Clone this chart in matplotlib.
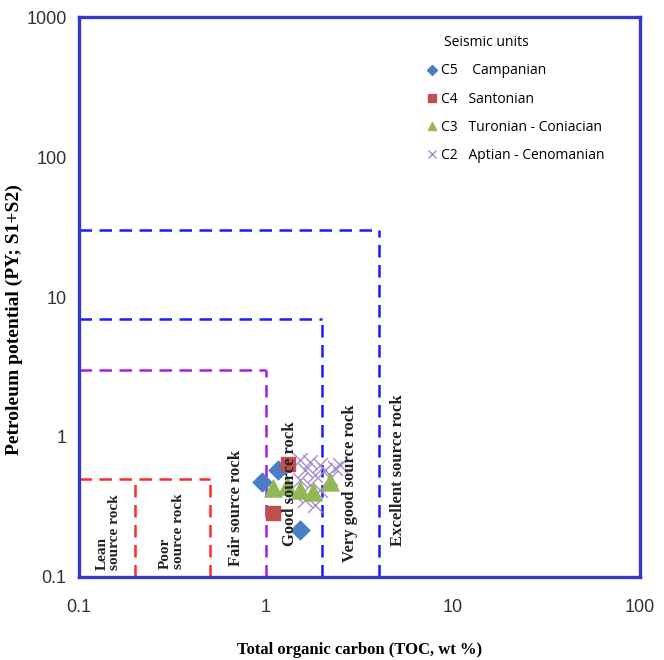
import numpy as np
import matplotlib
matplotlib.use("Agg")
import matplotlib.pyplot as plt
from matplotlib.lines import Line2D

# TOC (wt %) and PY (S1+S2)
c5_toc = [0.95, 1.16, 1.52]
c5_py = [0.48, 0.58, 0.217]

c4_toc = [1.31, 1.09]
c4_py = [0.64, 0.286]

c3_toc = [1.09, 1.29, 1.52, 1.78, 2.20]
c3_py = [0.43, 0.447, 0.418, 0.405, 0.478]

c2_toc = [1.52, 1.72, 1.94, 1.62, 1.83, 2.07, 2.34, 1.52, 1.72, 1.94, 2.20, 1.43, 1.62, 1.83, 2.49]
c2_py = [0.685, 0.664, 0.63, 0.58, 0.535, 0.58, 0.60, 0.49, 0.454, 0.418, 0.51, 0.385, 0.355, 0.327, 0.63]

# source-rock class limits: (TOC limit, PY limit)
class_limits = [(0.5, 0.5), (1, 3), (2, 7), (4, 30)]
lean_poor_toc = 0.2

tick_vals = [0.1, 1, 10, 100, 1000]
tick_labels = ["0.1", "1", "10", "100", "1000"]

serif = "Liberation Serif"
sans = "Liberation Sans"

fig = plt.figure(figsize=(6.64, 6.60), dpi=100)
ax = fig.add_axes([0.119, 0.126, 0.845, 0.848])
ax.set_xscale("log")
ax.set_yscale("log")
ax.set_xlim(0.1, 100)
ax.set_ylim(0.1, 1000)

frame_col = "#3838c8"
for s in ax.spines.values():
    s.set_color(frame_col)
    s.set_linewidth(2.4)

# dashed class boxes
box_cols = ["#ff2a2a", "#a51ee6", "#1a1aff", "#1a1aff"]
dash = (0, (5, 3))
for (tx, py), col in zip(class_limits, box_cols):
    ax.plot([0.1, tx], [py, py], color=col, lw=1.8, linestyle=dash)
    ax.plot([tx, tx], [0.1, py], color=col, lw=1.8, linestyle=dash)
ax.plot([lean_poor_toc, lean_poor_toc], [0.1, class_limits[0][1]],
        color=box_cols[0], lw=1.8, linestyle=dash)

# samples
ax.scatter(c2_toc, c2_py, marker="x", s=110, color="#a58cc8", linewidths=1.0, zorder=3)
ax.scatter(c5_toc, c5_py, marker="D", s=90, color="#4a7ec4", zorder=4)
ax.scatter(c4_toc, c4_py, marker="s", s=110, color="#c0504d", zorder=4)
ax.scatter(c3_toc, c3_py, marker="^", s=150, color="#92b756", zorder=4)

# class labels
lab_kw = dict(rotation=90, fontfamily=serif, fontweight="bold",
              va="bottom", ha="center", multialignment="left", color="#222222",
              linespacing=0.95)
ax.text(0.143, 0.112, "Lean\nsource rock", fontsize=11, **lab_kw)
ax.text(0.314, 0.113, "Poor\nsource rock", fontsize=11, **lab_kw)
ax.text(0.69, 0.12, "Fair source rock", fontsize=12, **lab_kw)
ax.text(1.34, 0.165, "Good source rock", fontsize=12, zorder=5, **lab_kw)
ax.text(2.81, 0.128, "Very good source rock", fontsize=12, **lab_kw)
ax.text(5.08, 0.165, "Excellent source rock", fontsize=12, **lab_kw)

ax.set_xticks(tick_vals[:4])
ax.set_xticklabels(tick_labels[:4])
ax.set_yticks(tick_vals)
ax.set_yticklabels(tick_labels)
ax.minorticks_off()
ax.tick_params(length=0, labelsize=13, colors="#333333")
ax.tick_params(axis="x", pad=16)
ax.tick_params(axis="y", pad=9)
for t in ax.get_xticklabels() + ax.get_yticklabels():
    t.set_fontfamily(sans)

ax.set_xlabel("Total organic carbon (TOC, wt %)", fontfamily=serif,
              fontweight="bold", fontsize=12, labelpad=19)
ax.set_ylabel("Petroleum potential (PY; S1+S2)", fontfamily=serif,
              fontweight="bold", fontsize=14)
ax.yaxis.set_label_coords(-0.1, 0.46)

# legend
handles = [
    Line2D([], [], marker="D", color="#4a7ec4", linestyle="none", markersize=5),
    Line2D([], [], marker="s", color="#c0504d", linestyle="none", markersize=6),
    Line2D([], [], marker="^", color="#92b756", linestyle="none", markersize=6),
    Line2D([], [], marker="x", color="#a58cc8", linestyle="none", markersize=6),
]
labels = ["C5    Campanian", "C4   Santonian", "C3   Turonian - Coniacian",
          "C2   Aptian - Cenomanian"]
leg = ax.legend(handles, labels, title="Seismic units", loc="upper left",
                bbox_to_anchor=(0.6, 0.99), frameon=False, handlelength=0.6,
                handletextpad=0.35, labelspacing=0.95,
                prop={"family": "Open Sans", "size": 10},
                title_fontproperties={"family": "Open Sans", "size": 10})
leg._legend_box.align = "left"
leg.get_title().set_position((16, 0))

fig.savefig("out.png", dpi=100)
